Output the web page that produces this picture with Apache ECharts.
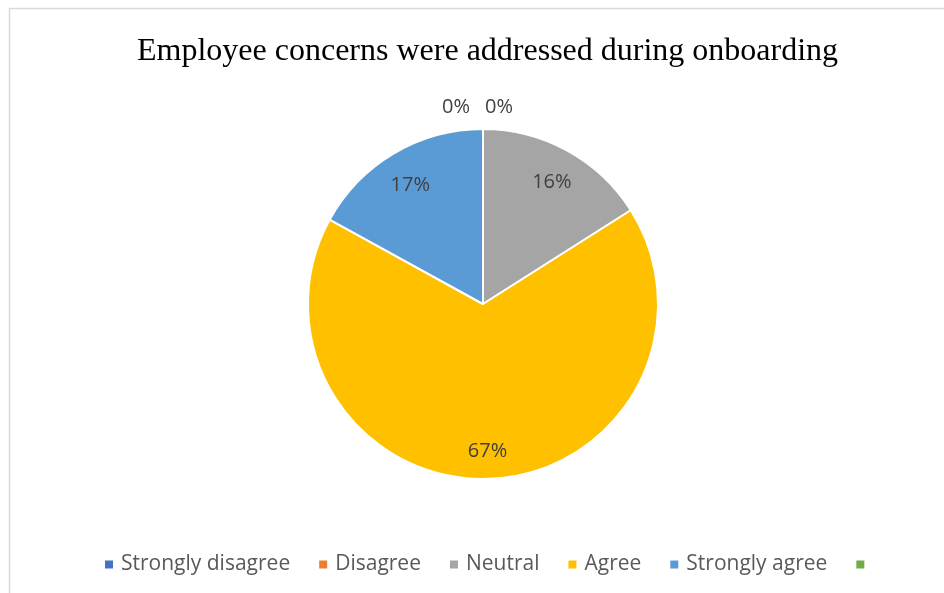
<!DOCTYPE html>
<html>
<head>
<meta charset="utf-8">
<style>
  html, body { margin: 0; padding: 0; background: #fff; }
  #chart { width: 944px; height: 593px; }
</style>
<script src="https://cdn.jsdelivr.net/npm/echarts@6/dist/echarts.min.js"></script>
</head>
<body>
<div id="chart"></div>
<script>
// Survey responses (percent of employees)
const categories = ['Strongly disagree', 'Disagree', 'Neutral', 'Agree', 'Strongly agree', ' '];
const shares = [0, 0, 16, 67, 17, 0];
const sliceColors = ['#4472C4', '#ED7D31', '#A5A5A5', '#FFC000', '#5B9BD5', '#70AD47'];
const chartTitle = 'Employee concerns were addressed during onboarding';

const labelFont = { fontFamily: '"Open Sans", "Noto Sans", sans-serif', fontSize: 20, color: '#404040' };

// main pie: visible sectors; only the zero-value answers get an outside label
const pieData = categories.map((name, i) => ({
  name,
  value: shares[i],
  itemStyle: { color: sliceColors[i] },
  label: { show: shares[i] === 0 && name.trim() !== '' }
}));

// transparent ring on top, used only to set the in-slice percentage labels nearer the rim
const ringData = categories.map((name, i) => ({
  name,
  value: shares[i],
  label: { show: shares[i] > 0 }
}));

const fmt = p => Math.round(p.percent) + '%';

const chart = echarts.init(document.getElementById('chart'), null, { renderer: 'canvas' });
chart.setOption({
  animation: false,
  backgroundColor: '#fff',
  title: {
    text: chartTitle,
    left: 132,
    top: 31,
    textStyle: { fontFamily: '"Liberation Serif", "Times New Roman", serif', fontSize: 32, fontWeight: 'normal', color: '#000' }
  },
  graphic: [{
    type: 'rect',
    shape: { x: 9.5, y: 8.5, width: 960, height: 620 },
    style: { fill: 'none', stroke: '#d9d9d9', lineWidth: 1.5 },
    silent: true,
    z: -10
  }],
  legend: {
    bottom: 18,
    left: 103,
    padding: 0,
    itemWidth: 10,
    itemHeight: 10,
    itemGap: 27,
    icon: 'rect',
    data: categories,
    textStyle: { fontFamily: '"Open Sans", "Noto Sans", sans-serif', fontSize: 21, color: '#595959', padding: [0, 0, 0, 2] },
    selectedMode: false
  },
  series: [
    {
      type: 'pie',
      center: [483, 304],
      radius: [0, 175],
      startAngle: 90,
      clockwise: true,
      avoidLabelOverlap: false,
      itemStyle: { borderColor: '#fff', borderWidth: 2 },
      label: { position: 'outside', formatter: fmt, ...labelFont },
      labelLine: { show: false, length: 22, length2: 0 },
      // the two empty answers share the top edge: split their labels left and right of it
      labelLayout: params => (params.dataIndex === 0 ? { align: 'right', dx: -8 } : { align: 'left', dx: 7 }),
      emphasis: { disabled: true },
      data: pieData
    },
    {
      type: 'pie',
      center: [483, 304],
      radius: [105, 175],
      startAngle: 90,
      clockwise: true,
      silent: true,
      itemStyle: { color: 'transparent', borderWidth: 0 },
      label: { position: 'inside', formatter: fmt, ...labelFont },
      labelLine: { show: false },
      labelLayout: { dy: 4 },
      emphasis: { disabled: true },
      data: ringData
    }
  ]
});
</script>
</body>
</html>
